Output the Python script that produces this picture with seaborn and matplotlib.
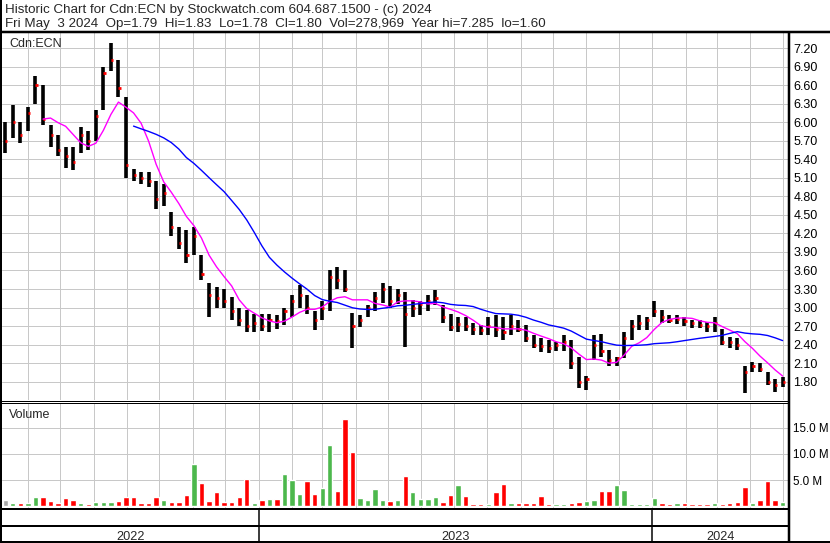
import pandas as pd
import numpy as np
import seaborn as sns
import matplotlib
matplotlib.use('Agg')
import matplotlib.pyplot as plt
import matplotlib.dates as mdates
import matplotlib.transforms as mtrans
from matplotlib.lines import Line2D
from matplotlib.ticker import FormatStrFormatter

# weekly bars (week ending friday)
weeks = pd.date_range(end='2024-05-03', periods=104, freq='W-FRI')

high = [6.00, 6.28, 6.00, 6.25, 6.75, 6.60, 5.95, 5.80, 5.60, 5.60,
        5.92, 5.85, 6.20, 6.90, 7.28, 7.00, 6.40, 5.25, 5.20, 5.20,
        5.05, 5.00, 4.55, 4.30, 4.25, 4.30, 3.85, 3.40, 3.33, 3.30,
        3.17, 3.00, 2.96, 2.90, 2.90, 2.90, 2.88, 3.00, 3.20, 3.36,
        3.20, 2.95, 3.10, 3.60, 3.66, 3.60, 2.91, 2.88, 3.04, 3.25,
        3.40, 3.35, 3.30, 3.25, 3.12, 3.10, 3.20, 3.28, 3.04, 2.90,
        2.85, 2.85, 2.75, 2.72, 2.85, 2.88, 2.85, 2.88, 2.80, 2.72,
        2.56, 2.50, 2.48, 2.45, 2.55, 2.47, 2.20, 1.90, 2.56, 2.58,
        2.31, 2.20, 2.60, 2.80, 2.88, 2.85, 3.10, 2.96, 2.88, 2.88,
        2.85, 2.80, 2.80, 2.76, 2.85, 2.65, 2.52, 2.50, 2.05, 2.12,
        2.10, 1.96, 1.85, 1.88]

low = [5.50, 5.75, 5.66, 5.85, 6.30, 5.95, 5.60, 5.45, 5.26, 5.23,
       5.50, 5.55, 5.70, 6.20, 6.82, 6.40, 5.10, 5.05, 5.00, 4.95,
       4.60, 4.65, 4.15, 3.95, 3.72, 3.85, 3.45, 2.85, 3.00, 3.00,
       2.80, 2.70, 2.60, 2.60, 2.62, 2.60, 2.65, 2.72, 2.85, 3.00,
       2.90, 2.64, 2.80, 2.95, 3.30, 3.25, 2.35, 2.69, 2.85, 2.95,
       3.07, 3.00, 3.05, 2.36, 2.85, 2.88, 2.95, 3.04, 2.75, 2.62,
       2.60, 2.62, 2.56, 2.55, 2.55, 2.52, 2.47, 2.56, 2.60, 2.45,
       2.35, 2.28, 2.26, 2.30, 2.30, 2.00, 1.70, 1.67, 2.15, 2.20,
       2.05, 2.05, 2.18, 2.47, 2.64, 2.64, 2.85, 2.75, 2.75, 2.73,
       2.70, 2.67, 2.67, 2.60, 2.60, 2.39, 2.35, 2.31, 1.62, 1.96,
       1.96, 1.75, 1.63, 1.72]

close = [5.70, 6.00, 5.80, 6.15, 6.60, 6.05, 5.80, 5.55, 5.45, 5.35,
         5.80, 5.70, 6.10, 6.80, 7.00, 6.55, 5.30, 5.15, 5.10, 5.05,
         4.75, 4.85, 4.30, 4.05, 3.85, 4.15, 3.55, 3.20, 3.15, 3.10,
         2.95, 2.80, 2.70, 2.75, 2.70, 2.80, 2.78, 2.95, 3.10, 3.20,
         3.00, 2.80, 3.00, 3.50, 3.45, 3.30, 2.70, 2.80, 3.00, 3.15,
         3.30, 3.10, 3.20, 2.90, 3.00, 3.05, 3.10, 3.15, 2.85, 2.68,
         2.74, 2.70, 2.65, 2.63, 2.70, 2.65, 2.60, 2.70, 2.65, 2.50,
         2.40, 2.38, 2.35, 2.40, 2.45, 2.10, 1.80, 1.85, 2.40, 2.30,
         2.15, 2.18, 2.50, 2.70, 2.75, 2.80, 2.95, 2.85, 2.80, 2.82,
         2.78, 2.75, 2.72, 2.70, 2.75, 2.45, 2.44, 2.40, 1.95, 2.05,
         2.00, 1.80, 1.75, 1.80]

# volume in millions of shares
volume = [1.2, 0.6, 0.5, 0.6, 1.7, 1.8, 1.0, 0.6, 1.6, 1.15,
          0.5, 0.4, 0.8, 0.8, 0.7, 1.0, 1.8, 1.8, 0.6, 0.6,
          1.8, 1.2, 0.7, 0.7, 2.1, 8.1, 4.5, 1.0, 2.6, 0.8,
          0.8, 1.8, 5.2, 0.6, 1.2, 1.4, 1.3, 6.2, 5.0, 2.4,
          4.8, 2.4, 3.4, 11.7, 2.9, 16.7, 10.3, 1.5, 1.2, 3.3,
          1.2, 1.0, 1.2, 5.8, 2.6, 1.3, 1.3, 1.8, 0.8, 2.1,
          4.0, 1.9, 0.4, 0.3, 0.4, 2.7, 4.2, 0.6, 0.5, 0.5,
          0.6, 1.9, 0.4, 0.4, 0.4, 0.5, 0.8, 1.0, 1.2, 2.8,
          2.8, 4.0, 3.1, 0.4, 0.4, 0.3, 1.6, 0.6, 0.4, 0.5,
          0.6, 0.3, 0.4, 0.3, 0.5, 0.4, 0.5, 0.7, 3.7, 0.6,
          1.1, 4.8, 1.2, 0.8]

price_ticks = [1.80, 2.10, 2.40, 2.70, 3.00, 3.30, 3.60, 3.90, 4.20, 4.50,
               4.80, 5.10, 5.40, 5.70, 6.00, 6.30, 6.60, 6.90, 7.20]
vol_ticks = [5, 10, 15]

header1 = 'Historic Chart for Cdn:ECN by Stockwatch.com 604.687.1500 - (c) 2024'
header2 = ('Fri May  3 2024  Op=1.79  Hi=1.83  Lo=1.78  Cl=1.80  '
           'Vol=278,969  Year hi=7.285  lo=1.60')

df = pd.DataFrame({'week': weeks, 'high': high, 'low': low,
                   'close': close, 'volume': volume})
df['x'] = mdates.date2num(df['week'] - pd.Timedelta(days=2))
df['ma_short'] = df['close'].rolling(6).mean()
df['ma_long'] = df['close'].rolling(20, min_periods=18).mean()
chg = df['close'].diff()
df['vcol'] = np.where(chg > 0, '#4cb84c', np.where(chg < 0, '#ff0000', '#a8a8a8'))

W, H = 830, 543
def fx(x):
    return x / W
def fy(y):
    return 1 - y / H
PX = 0.72  # points per pixel at 100 dpi

sns.set_style('white')
plt.rcParams['font.family'] = ['Liberation Sans', 'DejaVu Sans']
plt.rcParams['font.size'] = 9

fig = plt.figure(figsize=(8.3, 5.43), dpi=100)
ax = fig.add_axes([fx(2), fy(400), 786 / W, 368 / H])
axv = fig.add_axes([fx(2), fy(508), 786 / W, 105 / H], sharex=ax)

# price bars + close ticks
ax.vlines(df['x'], df['low'], df['high'], color='black', lw=2.6)
ax.hlines(df['close'], df['x'], df['x'] + 2, color='red', lw=2)
sns.lineplot(data=df, x='x', y='ma_short', ax=ax, color='#ff00ff', lw=1)
sns.lineplot(data=df, x='x', y='ma_long', ax=ax, color='#0000ff', lw=1)

# volume
axv.bar(df['x'], df['volume'], width=5, color=df['vcol'])

x0 = mdates.date2num(pd.Timestamp('2022-05-08'))
x1 = mdates.date2num(pd.Timestamp('2024-05-06'))
ax.set_xlim(x0, x1)
ax.set_ylim(1.504, 7.459)
axv.set_ylim(-0.38, 19.8)

for a in (ax, axv):
    a.xaxis_date()
    a.xaxis.set_major_locator(mdates.MonthLocator())
    a.grid(True, color='#c8c8c8', lw=1 * PX)
    a.set_axisbelow(True)
    a.yaxis.tick_right()
    a.tick_params(length=0, labelbottom=False, labelleft=False, labelright=True,
                  pad=4, labelsize=9, colors='black')
    a.set_xlabel('')
    a.set_ylabel('')
    for s in a.spines.values():
        s.set_visible(False)

ax.set_yticks(price_ticks)
ax.yaxis.set_major_formatter(FormatStrFormatter('%.2f'))
axv.set_yticks(vol_ticks)
axv.set_yticklabels([f'{v:.1f} M' for v in vol_ticks])
axv.tick_params(labelsize=8.4, pad=3.5)

ax.text(fx(9), fy(47), 'Cdn:ECN', transform=fig.transFigure, fontsize=9, va='baseline')
axv.text(fx(9), fy(418), 'Volume', transform=fig.transFigure, fontsize=9, va='baseline')

fig.text(fx(4.5), fy(13), header1, fontsize=9.6, va='baseline')
fig.text(fx(4.5), fy(27), header2, fontsize=9.6, va='baseline')

def fline(xa, ya, xb, yb, lw):
    fig.add_artist(Line2D([fx(xa), fx(xb)], [fy(ya), fy(yb)], color='black',
                          lw=lw * PX, transform=fig.transFigure, solid_capstyle='butt'))

fline(0, 31.5, 830, 31.5, 2.5)
fline(1, 0, 1, 543, 2)
fline(789, 31, 789, 543, 2.5)
fline(0, 400.7, 789, 400.7, 1)
fline(0, 402.7, 789, 402.7, 1)
fline(0, 509, 789, 509, 2)
fline(0, 526, 789, 526, 2)
fline(0, 541.5, 830, 541.5, 2)

# year row along the bottom
trans = mtrans.blended_transform_factory(ax.transData, fig.transFigure)
years = [2022, 2023, 2024]
for yr in years:
    ya = max(mdates.date2num(pd.Timestamp(f'{yr}-01-01')), x0)
    yb = min(mdates.date2num(pd.Timestamp(f'{yr + 1}-01-01')), x1)
    if ya > x0:
        fig.add_artist(Line2D([ya, ya], [fy(509), fy(541)], color='black', lw=1.5 * PX,
                              transform=trans))
    fig.text((ya + yb) / 2, fy(540), str(yr), transform=trans, ha='center',
             va='baseline', fontsize=9.2)

fig.savefig('out.png', dpi=100)
